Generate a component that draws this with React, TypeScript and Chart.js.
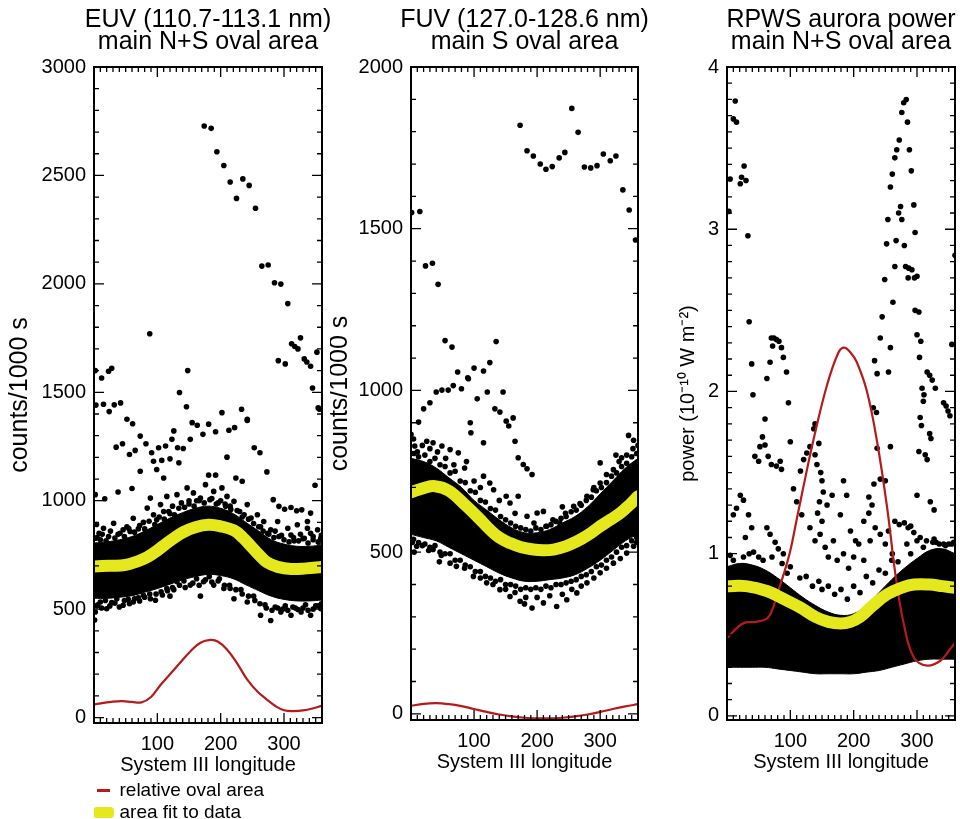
import React, { useEffect, useRef } from 'react';
import { Chart, registerables } from 'chart.js';

Chart.register(...registerables);

const FONT = "'Liberation Sans', Arial, Helvetica, sans-serif";
const RED = 'rgb(182,26,26)';
const YELLOW = 'rgb(228,232,28)';

type Pt = [number, number];

// ---------- shared axis data ----------
const lonTicks = [100, 200, 300];
const coreLon = [0, 20, 40, 60, 80, 100, 120, 140, 160, 180, 200, 220, 240, 260, 280, 300, 320, 340, 360];

// ---------- EUV panel ----------
const euvTitle = ['EUV (110.7-113.1 nm)', 'main N+S oval area'];
const euvYTicks = [0, 500, 1000, 1500, 2000, 2500, 3000];
const euvCoreLow = [550, 550, 555, 562, 578, 595, 615, 635, 650, 660, 655, 640, 612, 585, 560, 545, 538, 538, 542];
const euvCoreHigh = [805, 810, 820, 835, 860, 890, 920, 945, 965, 975, 965, 940, 900, 860, 820, 800, 790, 790, 795];
const euvOvalLon = [0, 15, 30, 45, 60, 75, 90, 105, 120, 136, 152, 168, 184, 196, 210, 226, 242, 258, 273, 287, 300, 315, 330, 345, 360];
const euvOvalVal = [60, 68, 74, 76, 72, 70, 95, 150, 200, 253, 305, 345, 358, 350, 314, 250, 175, 120, 83, 52, 34, 30, 33, 42, 55];
const euvFitLon = [0, 25, 50, 78, 95, 110, 125, 141, 160, 181, 200, 221, 235, 247, 260, 273, 290, 311, 335, 360];
const euvFitVal = [697, 700, 704, 731, 760, 793, 825, 855, 878, 889, 882, 863, 830, 793, 752, 716, 695, 685, 688, 695];
const euvPoints: Pt[] = [
  [174, 2728], [185, 2717], [194, 2609], [205, 2546], [215, 2470], [235, 2484], [245, 2454], [225, 2394], [255, 2349],
  [265, 2082], [275, 2087], [285, 2005], [295, 1999], [306, 1909], [326, 1751], [312, 1724], [317, 1711], [322, 1700],
  [332, 1654], [336, 1640], [342, 1620], [291, 1646], [302, 1631], [352, 1685], [345, 1520], [356, 1422], [88, 1770],
  [2, 1600], [12, 1566], [23, 1597], [28, 1611], [148, 1600], [135, 1499], [146, 1433], [3, 1441], [15, 1445], [24, 1411],
  [32, 1442], [42, 1451], [52, 1376], [202, 1406], [233, 1422], [242, 1376], [354, 1428],
  [61, 1355], [73, 1298], [35, 1247], [45, 1263], [56, 1213], [65, 1232], [82, 1263], [91, 1221], [102, 1244], [113, 1252],
  [126, 1322], [123, 1283], [132, 1244], [141, 1241], [152, 1283], [155, 1360], [163, 1348], [172, 1306], [181, 1353],
  [192, 1318], [213, 1325], [222, 1337], [242, 1370], [253, 1244], [262, 1221], [273, 1133], [283, 1005], [292, 974],
  [301, 961], [311, 969], [320, 954], [328, 958], [342, 943], [349, 1071], [94, 1182], [107, 1186], [120, 1193], [134, 1175],
  [99, 1144], [73, 1136], [110, 1105], [181, 1118], [192, 1118], [224, 1105], [234, 1090], [210, 1201], [17, 1009], [38, 1040],
  [60, 1056], [2, 1028], [337, 904],
  [4, 890], [15, 873], [31, 896], [46, 866], [62, 919], [84, 966], [89, 1012], [105, 982], [115, 1020], [131, 1028], [147, 1059],
  [157, 1036], [168, 1012], [176, 1074], [189, 1043], [202, 1059], [210, 1020], [221, 997], [242, 982], [258, 935], [268, 904],
  [290, 904], [306, 873], [321, 889], [337, 873], [353, 866], [358, 827], [2, 827], [23, 835], [57, 858], [99, 912], [237, 935],
  [279, 866], [311, 842], [332, 827], [10, 820], [38, 845], [70, 870], [78, 900], [94, 935], [110, 950], [124, 975], [138, 990],
  [162, 1000], [183, 1005], [196, 990], [215, 975], [230, 950], [248, 920], [263, 880], [274, 850], [296, 840], [316, 815],
  [326, 845], [346, 820], [8, 850], [52, 880], [120, 940], [150, 1000], [207, 985], [286, 860], [342, 850],
  [5, 830], [13, 845], [19, 815], [26, 860], [33, 828], [41, 850], [48, 835], [55, 872], [64, 855], [72, 885], [80, 870],
  [87, 905], [96, 890], [103, 925], [111, 915], [118, 950], [127, 935], [134, 965], [143, 970], [150, 985], [158, 975],
  [166, 1000], [174, 990], [186, 1010], [193, 985], [200, 1000], [208, 975], [216, 960], [226, 955], [234, 925], [244, 915],
  [252, 895], [260, 880], [267, 860], [276, 845], [284, 830], [292, 835], [300, 820], [308, 810], [315, 830], [323, 815],
  [330, 825], [338, 805], [346, 835], [354, 810], [359, 840],
  [2, 487], [10, 533], [20, 502], [36, 548], [46, 518], [62, 533], [78, 564], [97, 541], [115, 595], [131, 626], [152, 611],
  [173, 626], [189, 611], [205, 595], [221, 548], [242, 533], [263, 472], [279, 448], [295, 487], [311, 472], [327, 487],
  [342, 472], [358, 502], [1, 450], [6, 520], [28, 530], [54, 545], [70, 552], [88, 570], [106, 580], [124, 600], [142, 630],
  [162, 640], [182, 650], [198, 640], [214, 610], [232, 590], [252, 560], [270, 520], [286, 510], [302, 515], [318, 505],
  [334, 520], [350, 515], [168, 560], [120, 560],
  [4, 515], [12, 505], [18, 540], [25, 515], [33, 528], [40, 510], [48, 540], [56, 525], [64, 548], [72, 538], [80, 555],
  [89, 548], [98, 570], [108, 565], [116, 585], [126, 590], [135, 610], [144, 600], [156, 620], [166, 610], [176, 635],
  [186, 625], [196, 630], [206, 610], [215, 595], [224, 590], [234, 570], [244, 560], [254, 540], [262, 525], [272, 505],
  [281, 495], [290, 505], [298, 500], [306, 495], [314, 510], [322, 498], [330, 505], [338, 495], [346, 500], [354, 515], [359, 525],
];

// ---------- FUV panel ----------
const fuvTitle = ['FUV (127.0-128.6 nm)', 'main S oval area'];
const fuvYTicks = [0, 500, 1000, 1500, 2000];
const fuvCoreLow = [555, 545, 535, 515, 495, 475, 455, 435, 420, 410, 410, 415, 420, 430, 450, 475, 505, 535, 555];
const fuvCoreHigh = [790, 780, 760, 730, 700, 660, 630, 600, 575, 560, 560, 570, 590, 610, 640, 680, 720, 760, 790];
const fuvOvalLon = [0, 20, 40, 60, 80, 100, 120, 140, 160, 180, 200, 220, 240, 260, 280, 300, 320, 340, 360];
const fuvOvalVal = [25, 31, 33, 30, 24, 15, 6, -2, -8, -12, -14, -14, -12, -8, -2, 6, 15, 23, 30];
const fuvFitLon = [0, 20, 38, 60, 88, 110, 125, 140, 157, 175, 194, 210, 226, 245, 263, 280, 300, 316, 332, 346, 360];
const fuvFitVal = [685, 698, 704, 690, 642, 600, 570, 545, 528, 515, 508, 506, 508, 518, 533, 552, 580, 600, 621, 645, 673];
const fuvPoints: Pt[] = [
  [255, 1872], [173, 1820], [265, 1798], [184, 1741], [194, 1725], [205, 1700], [214, 1684], [224, 1692], [235, 1719],
  [244, 1736], [275, 1691], [285, 1688], [295, 1695], [305, 1731], [316, 1710], [325, 1725], [336, 1620], [346, 1558],
  [356, 1465], [1, 1550], [14, 1553], [23, 1385], [34, 1393], [43, 1328], [54, 1154], [65, 1134], [74, 1057], [90, 1039],
  [100, 1069], [115, 1060], [125, 1086], [135, 1151],
  [91, 1036], [80, 1005], [67, 1015], [59, 1001], [49, 1001], [40, 995], [30, 962], [20, 943], [12, 902], [105, 974],
  [121, 995], [146, 995], [133, 943], [141, 933], [151, 905], [155, 890], [162, 915], [165, 843], [170, 792], [178, 771],
  [184, 758], [192, 740], [94, 900], [95, 869], [115, 838], [125, 714], [151, 673], [170, 673], [200, 621], [210, 626],
  [300, 776], [334, 792], [345, 861], [353, 846], [289, 693],
  [0, 864], [6, 828], [25, 843], [35, 838], [49, 828], [62, 817], [75, 807], [215, 580], [236, 590], [258, 642], [279, 673],
  [300, 714], [321, 755], [115, 735], [131, 693], [157, 652], [184, 611], [10, 810], [18, 830], [42, 810], [55, 790],
  [68, 770], [85, 760], [100, 720], [110, 700], [140, 660], [165, 620], [195, 590], [225, 600], [245, 620], [268, 650],
  [290, 700], [310, 740], [330, 780], [342, 800], [352, 820], [360, 830], [4, 850], [30, 820], [88, 780], [240, 640], [325, 800],
  [4, 805], [12, 795], [22, 800], [30, 780], [38, 790], [46, 770], [54, 765], [62, 745], [70, 750], [78, 720], [86, 715],
  [94, 690], [102, 685], [110, 660], [118, 655], [126, 635], [134, 630], [142, 610], [150, 600], [158, 590], [166, 580],
  [174, 575], [182, 570], [190, 565], [198, 575], [206, 570], [214, 580], [222, 585], [230, 595], [238, 605], [246, 610],
  [254, 625], [262, 630], [270, 645], [278, 660], [286, 670], [294, 690], [302, 700], [310, 715], [318, 735], [326, 745],
  [334, 765], [342, 775], [350, 795], [358, 805],
  [62, 466], [72, 456], [35, 508], [9, 518], [99, 425], [120, 405], [141, 384], [157, 363], [173, 348], [192, 327], [210, 343],
  [231, 332], [247, 353], [263, 374], [279, 405], [300, 436], [321, 466], [342, 497], [353, 518], [2, 530], [18, 520],
  [28, 505], [48, 490], [85, 450], [110, 420], [130, 400], [150, 385], [165, 375], [182, 360], [200, 360], [220, 365],
  [240, 370], [255, 385], [270, 395], [290, 420], [310, 450], [332, 480], [358, 530], [5, 500], [45, 470], [180, 340],
  [4, 540], [12, 530], [22, 525], [30, 515], [38, 520], [46, 500], [54, 495], [62, 495], [70, 475], [78, 475], [86, 460],
  [94, 455], [102, 440], [110, 440], [118, 425], [126, 420], [134, 410], [142, 415], [150, 400], [158, 400], [166, 395],
  [174, 385], [182, 390], [190, 385], [198, 390], [206, 385], [214, 395], [222, 390], [230, 400], [238, 400], [246, 405],
  [254, 410], [262, 415], [270, 425], [278, 430], [286, 440], [294, 455], [302, 460], [310, 475], [318, 485], [326, 500],
  [334, 515], [342, 520], [350, 535], [358, 545],
];

// ---------- RPWS panel ----------
const rpwsTitle = ['RPWS aurora power', 'main N+S oval area'];
const rpwsYTicks = [0, 1, 2, 3, 4];
const rpwsCoreLow = [0.30, 0.30, 0.30, 0.30, 0.29, 0.28, 0.27, 0.26, 0.26, 0.26, 0.26, 0.27, 0.28, 0.30, 0.32, 0.34, 0.35, 0.35, 0.35];
const rpwsCoreHigh = [0.92, 0.94, 0.93, 0.90, 0.85, 0.79, 0.73, 0.68, 0.64, 0.62, 0.63, 0.68, 0.76, 0.84, 0.91, 0.97, 1.02, 1.03, 1.00];
const rpwsOvalLon = [0, 25, 45, 63, 72, 80, 90, 100, 110, 120, 137, 158, 176, 185, 195, 205, 221, 237, 253, 266, 279, 295, 316, 337, 350, 360];
const rpwsOvalVal = [0.48, 0.57, 0.58, 0.60, 0.66, 0.76, 0.88, 1.02, 1.21, 1.40, 1.71, 2.04, 2.24, 2.27, 2.24, 2.18, 2.00, 1.69, 1.28, 0.87, 0.57, 0.36, 0.31, 0.34, 0.40, 0.45];
const rpwsFitLon = [0, 30, 63, 90, 115, 140, 160, 179, 195, 210, 230, 253, 275, 295, 320, 340, 360];
const rpwsFitVal = [0.80, 0.80, 0.77, 0.72, 0.67, 0.61, 0.58, 0.57, 0.58, 0.61, 0.68, 0.75, 0.79, 0.81, 0.81, 0.80, 0.79];
const rpwsPoints: Pt[] = [
  [13, 3.79], [10, 3.68], [15, 3.66], [27, 3.39], [5, 3.31], [21, 3.28], [30, 3.30], [23, 3.32], [3, 3.11], [33, 2.96],
  [35, 2.43], [70, 2.33], [74, 2.33], [78, 2.32], [82, 2.31], [86, 2.27], [72, 2.28],
  [283, 3.80], [279, 3.78], [276, 3.72], [285, 3.66], [272, 3.55], [268, 3.49], [265, 3.44], [288, 3.49], [261, 3.34],
  [291, 3.36], [258, 3.26], [274, 3.14], [271, 3.10], [276, 3.06], [295, 3.15], [254, 3.06], [297, 2.98], [252, 2.91],
  [267, 2.93], [280, 2.90], [360, 2.84], [265, 2.77], [282, 2.77], [287, 2.76], [292, 2.75], [249, 2.69], [286, 2.70],
  [296, 2.70], [300, 2.71], [262, 2.55], [245, 2.46], [297, 2.50], [303, 2.49], [242, 2.33], [300, 2.35], [306, 2.31],
  [258, 2.27], [355, 2.29],
  [39, 2.17], [68, 2.18], [89, 2.21], [63, 2.08], [94, 2.12], [41, 1.98], [97, 1.93], [60, 1.83], [233, 2.19], [237, 2.11],
  [255, 2.12], [231, 1.90], [236, 1.87], [304, 2.21], [316, 2.12], [320, 2.10], [324, 2.07], [329, 2.02], [308, 2.02],
  [311, 1.98], [310, 1.94], [342, 1.93], [346, 1.91], [349, 1.88], [352, 1.85], [305, 1.84], [307, 1.79], [320, 1.74],
  [322, 1.71], [258, 1.66], [237, 1.65], [303, 1.63], [313, 1.61], [316, 1.58], [56, 1.72], [52, 1.66], [60, 1.67],
  [44, 1.60], [50, 1.57], [65, 1.60], [70, 1.55], [78, 1.54], [86, 1.52], [84, 1.57], [100, 1.69], [139, 1.80], [137, 1.77],
  [131, 1.66], [126, 1.62], [121, 1.58], [116, 1.51], [145, 1.68], [139, 1.61], [142, 1.55],
  [148, 1.50], [150, 1.45], [152, 1.38], [146, 1.32], [143, 1.25], [150, 1.20], [158, 1.30], [166, 1.36], [179, 1.24],
  [195, 1.14], [203, 1.08], [184, 1.45], [189, 1.36], [216, 1.20], [224, 1.35], [232, 1.43], [242, 1.46], [250, 1.45],
  [229, 1.30], [224, 1.25], [265, 1.20], [272, 1.18], [280, 1.19], [286, 1.16], [290, 1.17], [300, 1.36], [321, 1.32],
  [327, 1.27], [295, 1.13], [305, 1.10], [315, 1.08], [325, 1.07], [335, 1.06], [345, 1.05], [355, 1.06], [21, 1.36],
  [26, 1.33], [15, 1.28], [10, 1.24], [34, 1.24], [39, 1.16], [29, 1.10], [63, 1.16], [68, 1.12], [76, 1.07], [81, 1.03], [89, 1.00],
  [105, 1.40], [110, 1.32], [118, 1.24], [131, 1.16], [139, 1.08], [147, 1.12], [155, 1.04], [160, 0.98], [168, 1.08],
  [174, 0.96], [184, 1.00], [192, 0.91], [200, 0.98], [208, 1.06], [216, 0.96], [226, 1.08], [234, 1.16], [242, 1.12],
  [250, 1.06], [255, 1.14], [261, 1.00], [10, 0.96], [26, 0.98], [42, 1.01], [57, 0.96], [71, 0.98], [87, 0.94], [284, 1.06],
  [300, 1.08], [327, 1.09], [342, 1.06], [358, 1.07],
  [5, 0.99], [35, 1.0], [50, 0.98], [95, 0.88], [115, 0.85], [135, 0.80], [150, 0.78], [170, 0.75], [190, 0.72], [210, 0.76],
  [230, 0.82], [250, 0.88], [270, 0.95], [290, 1.0], [310, 1.04], [330, 1.07], [350, 1.06],
  [100, 0.92], [125, 0.86], [145, 0.83], [160, 0.80], [180, 0.78], [200, 0.80], [220, 0.86], [240, 0.90], [260, 0.96],
];

// ---------- plugin: inward ticks on all four sides + frame ----------
const frameTicks = {
  id: 'frameTicks',
  afterDatasetsDraw(chart: any, _args: any, opts: any) {
    const { ctx, chartArea } = chart;
    const { left, right, top, bottom } = chartArea;
    const xs = chart.scales.x;
    const ys = chart.scales.y;
    const isMajor = (v: number, step: number) => Math.abs(v / step - Math.round(v / step)) < 1e-6;
    ctx.save();
    ctx.strokeStyle = '#000';
    ctx.lineWidth = 1.3;
    ctx.beginPath();
    const nx = Math.round((opts.xMax - opts.xMin) / opts.xMinor);
    for (let i = 0; i <= nx; i++) {
      const v = opts.xMin + i * opts.xMinor;
      const p = xs.getPixelForValue(v);
      const len = isMajor(v, opts.xMajor) ? 10 : 5;
      ctx.moveTo(p, bottom);
      ctx.lineTo(p, bottom - len);
      ctx.moveTo(p, top);
      ctx.lineTo(p, top + len);
    }
    const ny = Math.round((opts.yEnd - opts.yStart) / opts.yMinor);
    for (let i = 0; i <= ny; i++) {
      const v = opts.yStart + i * opts.yMinor;
      const p = ys.getPixelForValue(v);
      const len = isMajor(v, opts.yMajor) ? 10 : 5;
      ctx.moveTo(left, p);
      ctx.lineTo(left + len, p);
      ctx.moveTo(right, p);
      ctx.lineTo(right - len, p);
    }
    ctx.stroke();
    ctx.lineWidth = 2;
    ctx.strokeRect(left, top, right - left, bottom - top);
    ctx.restore();
  },
};

// ---------- plugin: two-line panel title centred on the plot area (not squeezed) ----------
const panelTitle = {
  id: 'panelTitle',
  afterDraw(chart: any, _args: any, opts: any) {
    const { ctx, chartArea } = chart;
    const cx = (chartArea.left + chartArea.right) / 2;
    ctx.save();
    ctx.fillStyle = '#000';
    ctx.font = `${opts.size}px ${FONT}`;
    ctx.textAlign = 'center';
    ctx.textBaseline = 'middle';
    (opts.lines as string[]).forEach((t, i) => ctx.fillText(t, cx, opts.y0 + i * opts.gap));
    ctx.restore();
  },
};

interface PanelProps {
  title: string[];
  yTitle: string;
  yTitleSize: number;
  yTitleLine: number;
  yMin: number;
  yMax: number;
  yTicks: number[];
  yMinor: number;
  yMajor: number;
  points: Pt[];
  coreLow: number[];
  coreHigh: number[];
  ovalLon: number[];
  ovalVal: number[];
  fitLon: number[];
  fitVal: number[];
  showLegend: boolean;
  left: number;
  width: number;
  height: number;
  axisWidth: number;
  padRight: number;
  padBottom: number;
  yTitlePad: number;
}

function Panel(p: PanelProps) {
  const ref = useRef<HTMLCanvasElement>(null);
  useEffect(() => {
    if (!ref.current) return;
    const xy = (xs: number[], ys: number[]) => xs.map((x, i) => ({ x, y: ys[i] }));
    const chart = new Chart(ref.current, {
      type: 'scatter',
      data: {
        datasets: [
          {
            type: 'line', label: 'area fit to data', data: xy(p.fitLon, p.fitVal),
            borderColor: YELLOW, borderWidth: 12, pointRadius: 0, tension: 0.4, fill: false,
            borderCapStyle: 'round', order: 0,
          } as any,
          {
            type: 'line', label: 'relative oval area', data: xy(p.ovalLon, p.ovalVal),
            borderColor: RED, borderWidth: 2.2, pointRadius: 0, tension: 0.4, fill: false, order: 1,
          } as any,
          {
            type: 'scatter', label: 'data', data: p.points.map(([x, y]) => ({ x, y })),
            backgroundColor: '#000', borderWidth: 0, pointRadius: 2.8, order: 2,
          } as any,
          {
            type: 'line', label: 'core low', data: xy(coreLon, p.coreLow),
            borderColor: '#000', borderWidth: 1, pointRadius: 0, tension: 0.4, fill: false, order: 3,
          } as any,
          {
            type: 'line', label: 'core high', data: xy(coreLon, p.coreHigh),
            borderColor: '#000', borderWidth: 1, pointRadius: 0, tension: 0.4, fill: 3,
            backgroundColor: '#000', order: 4,
          } as any,
        ],
      },
      options: {
        responsive: false,
        animation: false,
        events: [],
        layout: { padding: { left: 0, right: p.padRight, top: 67, bottom: p.padBottom } },
        plugins: {
          title: { display: false },
          panelTitle: { lines: p.title, size: 25, y0: 20, gap: 22 },
          legend: p.showLegend
            ? {
                display: true, position: 'bottom', align: 'start', fullSize: false,
                labels: {
                  boxWidth: 13, boxHeight: 3, padding: 3, color: '#000',
                  font: { family: FONT, size: 19 },
                  generateLabels: () => [
                    { text: 'relative oval area', fillStyle: RED, strokeStyle: RED, lineWidth: 0, hidden: false, datasetIndex: 1, fontColor: '#000' },
                    { text: 'area fit to data', fillStyle: YELLOW, strokeStyle: YELLOW, lineWidth: 8, lineJoin: 'round', hidden: false, datasetIndex: 0, fontColor: '#000' },
                  ],
                },
              }
            : { display: false },
          tooltip: { enabled: false },
          frameTicks: { xMin: 0, xMax: 360, xMinor: 10, xMajor: 100, yStart: 0, yEnd: p.yMax, yMinor: p.yMinor, yMajor: p.yMajor },
        } as any,
        scales: {
          x: {
            type: 'linear', min: 0, max: 360,
            afterBuildTicks: (s: any) => { s.ticks = lonTicks.map((v) => ({ value: v })); },
            afterFit: (s: any) => { s.height = 55; },
            grid: { display: false, drawTicks: false },
            border: { display: false },
            ticks: { color: '#000', font: { family: FONT, size: 20 }, padding: 9, maxRotation: 0, callback: (v: any) => String(v) },
            title: { display: true, text: 'System III longitude', color: '#000', font: { family: FONT, size: 20, lineHeight: 1.2 }, padding: { top: 0, bottom: 1 } },
          },
          y: {
            type: 'linear', min: p.yMin, max: p.yMax,
            afterBuildTicks: (s: any) => { s.ticks = p.yTicks.map((v) => ({ value: v })); },
            afterFit: (s: any) => { s.width = p.axisWidth; },
            grid: { display: false, drawTicks: false },
            border: { display: false },
            ticks: { color: '#000', font: { family: FONT, size: 20 }, padding: 8, callback: (v: any) => String(v) },
            title: { display: true, text: p.yTitle, color: '#000', font: { family: FONT, size: p.yTitleSize, lineHeight: p.yTitleLine }, padding: { top: p.yTitlePad, bottom: 0 } },
          },
        } as any,
      },
      plugins: [frameTicks, panelTitle],
    } as any);
    return () => chart.destroy();
  }, []);
  return (
    <canvas
      ref={ref}
      width={p.width}
      height={p.height}
      style={{ position: 'absolute', left: p.left, top: 0, width: p.width, height: p.height }}
    />
  );
}

export default function App() {
  return (
    <div style={{ position: 'fixed', left: 0, top: 0, width: 960, height: 819, overflow: 'hidden', background: '#fff' }}>
      <Panel
        title={euvTitle} yTitle="counts/1000 s" yTitleSize={25} yTitleLine={0.8} yMin={-25} yMax={3000} yTicks={euvYTicks} yMinor={100} yMajor={500}
        points={euvPoints} coreLow={euvCoreLow} coreHigh={euvCoreHigh}
        ovalLon={euvOvalLon} ovalVal={euvOvalVal} fitLon={euvFitLon} fitVal={euvFitVal}
        showLegend={true} left={0} width={330} height={832} axisWidth={94} padRight={8} padBottom={0} yTitlePad={10}
      />
      <Panel
        title={fuvTitle} yTitle="counts/1000 s" yTitleSize={25} yTitleLine={0.8} yMin={-19} yMax={2000} yTicks={fuvYTicks} yMinor={100} yMajor={500}
        points={fuvPoints} coreLow={fuvCoreLow} coreHigh={fuvCoreHigh}
        ovalLon={fuvOvalLon} ovalVal={fuvOvalVal} fitLon={fuvFitLon} fitVal={fuvFitVal}
        showLegend={false} left={330} width={318} height={819} axisWidth={81} padRight={10} padBottom={44} yTitlePad={0}
      />
      <Panel
        title={rpwsTitle} yTitle="power (10⁻¹⁰ W m⁻²)" yTitleSize={20} yTitleLine={1} yMin={-0.025} yMax={4} yTicks={rpwsYTicks} yMinor={0.1} yMajor={1}
        points={rpwsPoints} coreLow={rpwsCoreLow} coreHigh={rpwsCoreHigh}
        ovalLon={rpwsOvalLon} ovalVal={rpwsOvalVal} fitLon={rpwsFitLon} fitVal={rpwsFitVal}
        showLegend={false} left={648} width={312} height={819} axisWidth={79} padRight={5} padBottom={44} yTitlePad={30}
      />
    </div>
  );
}
